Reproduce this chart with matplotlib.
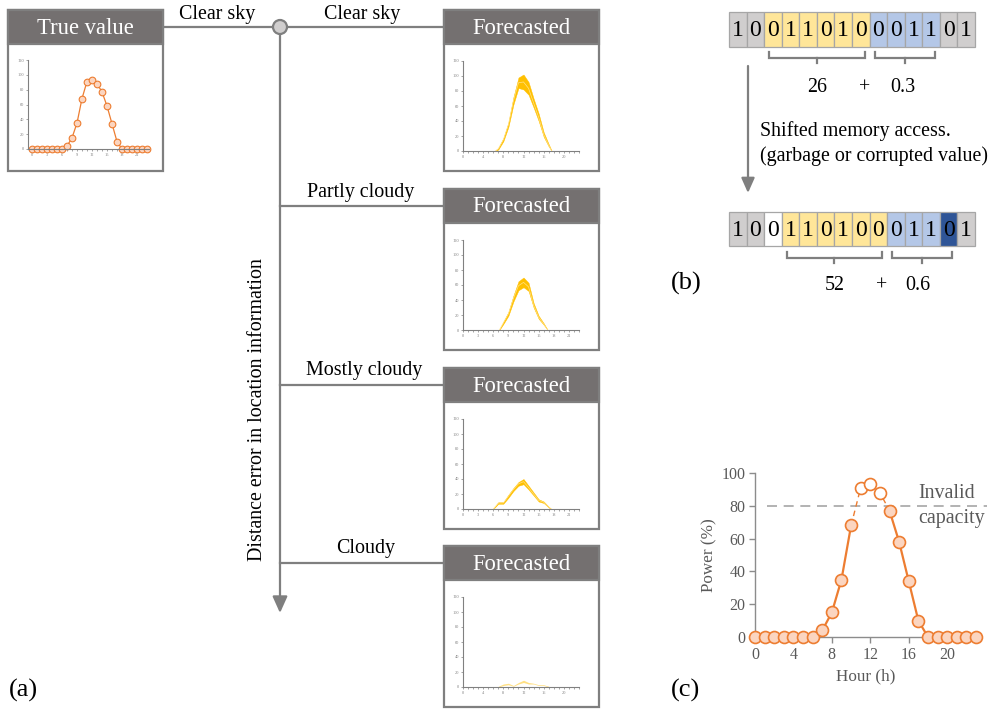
import matplotlib
matplotlib.use('Agg')
import matplotlib.pyplot as plt
from matplotlib.patches import Rectangle, Circle

plt.rcParams['font.family'] = ['Liberation Serif', 'DejaVu Serif']

W, H = 991, 713

# hourly PV output (% of capacity)
hours = list(range(24))
power = [0, 0, 0, 0, 0, 0, 0, 4, 15, 35, 68, 91, 93, 88, 77, 58, 34, 10, 0, 0, 0, 0, 0, 0]
over_cap = [11, 12, 13]
capacity = 80

# forecast ensembles: hour, lower bound, upper bound
clear_h = [6.4, 7, 8, 9, 10, 11, 12, 13, 14, 15, 16, 17, 17.6]
clear_lo = [0, 2, 13, 32, 62, 84, 82, 75, 58, 40, 19, 6, 0]
clear_hi = [0, 4, 17, 38, 72, 98, 102, 92, 70, 50, 25, 9, 0]

partly_h = [7.2, 8, 9, 10, 11, 12, 13, 14, 15, 16, 16.8]
partly_lo = [0, 8, 19, 38, 53, 57, 52, 30, 15, 7, 0]
partly_hi = [0, 11, 24, 46, 65, 70, 63, 36, 19, 9, 0]

mostly_h = [6, 7, 8, 9, 10, 11, 12, 13, 14, 15, 16, 17, 17.5]
mostly_lo = [0, 7, 7, 15, 24, 31, 33, 26, 18, 10, 8, 2, 0]
mostly_hi = [0, 9, 9, 19, 28, 36, 40, 31, 22, 13, 10, 3, 0]

cloudy_h = [7, 8, 9, 10, 11, 12, 13, 14, 15, 16, 17]
cloudy_lo = [0, 2, 3, 1, 4, 6, 4, 4, 2, 2, 0]
cloudy_hi = [1, 4, 5, 2, 6, 9, 6, 5, 3, 3, 1]

conditions = ['Clear sky', 'Partly cloudy', 'Mostly cloudy', 'Cloudy']

# memory words before / after the shifted access
bits_before = [1, 0, 0, 1, 1, 0, 1, 0, 0, 0, 1, 1, 0, 1]
kind_before = 'ggyyyyyybbbbgg'
bits_after = [1, 0, 0, 1, 1, 0, 1, 0, 0, 0, 1, 1, 0, 1]
kind_after = 'ggwyyyyyybbbBg'
int_before, frac_before = '26', '0.3'
int_after, frac_after = '52', '0.6'

frame = '#7f7f7f'
header = '#747070'
orange = '#ed7d31'
peach = '#fbd5c0'
gold = '#ffc000'
cell_fill = {'g': '#d0cece', 'y': '#ffe699', 'b': '#b4c7e7', 'B': '#2f5597', 'w': 'white'}

fig = plt.figure(figsize=(W / 100, H / 100), dpi=100)
bg = fig.add_axes([0, 0, 1, 1])
bg.set_xlim(0, W)
bg.set_ylim(H, 0)
bg.axis('off')


def px_axes(x0, y0, x1, y1):
    return fig.add_axes([x0 / W, 1 - y1 / H, (x1 - x0) / W, (y1 - y0) / H])


def panel(x0, y0, title, w=155, h=161, head=34):
    bg.add_patch(Rectangle((x0, y0), w, h, fc='white', ec=frame, lw=1.6))
    bg.add_patch(Rectangle((x0, y0), w, head, fc=header, ec=frame, lw=1.6))
    bg.text(x0 + w / 2, y0 + head / 2 + 1, title, color='white', fontsize=16.3,
            ha='center', va='center')


def mini(ax, xticks, xlim=(0, 23)):
    ax.set_xlim(*xlim)
    ax.set_ylim(0, 120)
    ax.set_yticks(range(0, 121, 20))
    ax.set_xticks(xticks)
    ax.set_xticks(range(0, 24), minor=True)
    for s in ['top', 'right']:
        ax.spines[s].set_visible(False)
    for s in ['left', 'bottom']:
        ax.spines[s].set_color('#808080')
        ax.spines[s].set_linewidth(0.8)
    ax.tick_params(labelsize=3.2, colors='#808080', length=1.5, width=0.5, pad=1.5)
    ax.tick_params(which='minor', length=1.2, width=0.5, color='#808080')
    ax.patch.set_alpha(0)


# ---- (a) location error tree ----
line_kw = dict(color=frame, lw=1.6, zorder=1)
bg.plot([163, 444], [27, 27], **line_kw)
bg.annotate('', xy=(280, 613), xytext=(280, 27),
            arrowprops=dict(arrowstyle='-|>,head_length=1.0,head_width=0.45',
                            color=frame, lw=1.6, shrinkA=0, shrinkB=0), zorder=1)
box_tops = [10, 189, 368, 546]
for top in box_tops[1:]:
    bg.plot([280, 444], [top + 17, top + 17], **line_kw)
bg.add_patch(Circle((280, 27), 7, fc='#d0cece', ec=frame, lw=1.6, zorder=3))

bg.text(217, 14, 'Clear sky', fontsize=14.4, ha='center', va='center')
label_x = [362, 361, 364, 366]
label_y = [14, 192, 371, 549]
for name, lx, ly in zip(conditions, label_x, label_y):
    bg.text(lx, ly, name, fontsize=14.4, ha='center', va='center')
bg.text(258, 410, 'Distance error in location information', fontsize=14.4,
        rotation=90, ha='center', va='center')

# true value panel
panel(8, 10, 'True value')
ax = px_axes(28, 60, 149, 149)
mini(ax, range(0, 22, 3), xlim=(-0.8, 23.4))
ax.plot(hours, power, color=orange, lw=0.9, marker='o', ms=4.8, mfc=peach,
        mec=orange, mew=0.8, clip_on=False)

# forecasted panels
bands = [(clear_h, clear_lo, clear_hi, range(0, 21, 4)),
         (partly_h, partly_lo, partly_hi, range(0, 22, 3)),
         (mostly_h, mostly_lo, mostly_hi, range(0, 22, 3)),
         (cloudy_h, cloudy_lo, cloudy_hi, range(0, 21, 4))]
for i, (top, (bh, lo, hi, xt)) in enumerate(zip(box_tops, bands)):
    panel(444, top, 'Forecasted')
    ax = px_axes(463, top + 51, 579, top + 141)
    mini(ax, xt)
    if i < 3:
        ax.fill_between(bh, lo, hi, color=gold, lw=0.3)
        mid = [(a + b) / 2 for a, b in zip(lo, hi)]
        ax.plot(bh, mid, color='#ffe38a', lw=0.5)
    else:
        ax.fill_between(bh, lo, hi, color='#ffd966', alpha=0.8, lw=0)

bg.text(23, 690, '(a)', fontsize=19, ha='center', va='center')

# ---- (b) shifted memory access ----
cell_w = (975 - 729) / 14


def bit_row(y0, bits, kinds, y1):
    for k, (b, c) in enumerate(zip(bits, kinds)):
        x = 729 + k * cell_w
        bg.add_patch(Rectangle((x, y0), cell_w, y1 - y0, fc=cell_fill[c],
                               ec='#a6a6a6', lw=0.9))
        bg.text(x + cell_w / 2, (y0 + y1) / 2 + 1, str(b), fontsize=17,
                ha='center', va='center')


def brace(c0, c1, y):
    x0 = 729 + c0 * cell_w + 5
    x1 = 729 + c1 * cell_w - 5
    bg.plot([x0, x0, x1, x1], [y - 6, y, y, y - 6], color=frame, lw=1.6,
            solid_joinstyle='miter')
    bg.plot([(x0 + x1) / 2] * 2, [y, y + 5], color=frame, lw=1.6)
    return (x0 + x1) / 2


bit_row(12, bits_before, kind_before, 47)
cy = brace(2, 8, 58)
cb = brace(8, 12, 58)
bg.text(cy, 88, int_before, fontsize=14.4, ha='center', va='center')
bg.text(865, 88, '+', fontsize=14.4, ha='center', va='center')
bg.text(cb - 2, 88, frac_before, fontsize=14.4, ha='center', va='center')

bg.annotate('', xy=(748, 193), xytext=(748, 66),
            arrowprops=dict(arrowstyle='-|>,head_length=0.9,head_width=0.4',
                            color=frame, lw=1.6, shrinkA=0, shrinkB=0))
bg.text(760, 131, 'Shifted memory access.', fontsize=14.4, ha='left', va='center')
bg.text(760, 156, '(garbage or corrupted value)', fontsize=14.4, ha='left', va='center')

bit_row(212, bits_after, kind_after, 246)
cy = brace(3, 9, 258)
cb = brace(9, 13, 258)
bg.text(cy, 286, int_after, fontsize=14.4, ha='center', va='center')
bg.text(882, 286, '+', fontsize=14.4, ha='center', va='center')
bg.text(cb - 4, 286, frac_after, fontsize=14.4, ha='center', va='center')

bg.text(686, 283, '(b)', fontsize=19, ha='center', va='center')

# ---- (c) invalid capacity ----
ax = px_axes(755, 473, 976, 637)
ax.set_xlim(0, 23)
ax.set_ylim(0, 100)
ax.set_xticks(range(0, 21, 4))
ax.set_yticks(range(0, 101, 20))
for s in ['top', 'right']:
    ax.spines[s].set_visible(False)
for s in ['left', 'bottom']:
    ax.spines[s].set_color('#8c8c8c')
    ax.spines[s].set_linewidth(1.0)
ax.tick_params(labelsize=11.5, colors='#595959', length=4, width=1.0,
               color='#8c8c8c', pad=3)
ax.set_xlabel('Hour (h)', fontsize=12.3, color='#595959', labelpad=4)
ax.set_ylabel('Power (%)', fontsize=12.3, color='#595959', labelpad=3)
ax.patch.set_alpha(0)

ax.axhline(capacity, xmin=0.054, xmax=1.05, color='#a6a6a6', lw=1.2,
           ls=(0, (6, 4)), clip_on=False, zorder=1)
ax.text(17, 87.5, 'Invalid', fontsize=14.4, color='#595959', ha='left', va='center')
ax.text(17, 72.5, 'capacity', fontsize=14.4, color='#595959', ha='left', va='center')

first, last = over_cap[0] - 1, over_cap[-1] + 1
ax.plot(hours[:first + 1], power[:first + 1], color=orange, lw=1.6, zorder=2, clip_on=False)
ax.plot(hours[last:], power[last:], color=orange, lw=1.6, zorder=2, clip_on=False)
ax.plot(hours[first:last + 1], power[first:last + 1], color=orange, lw=1.0,
        ls=(0, (4, 3)), zorder=2)
ok = [h for h in hours if h not in over_cap]
ax.plot(ok, [power[h] for h in ok], ls='none', marker='o', ms=8.6, mfc=peach,
        mec=orange, mew=1.2, clip_on=False, zorder=3)
ax.plot(over_cap, [power[h] for h in over_cap], ls='none', marker='o', ms=8.6,
        mfc='white', mec=orange, mew=1.2, clip_on=False, zorder=3)

bg.text(686, 690, '(c)', fontsize=19, ha='center', va='center')

fig.savefig('out.png', dpi=100)
